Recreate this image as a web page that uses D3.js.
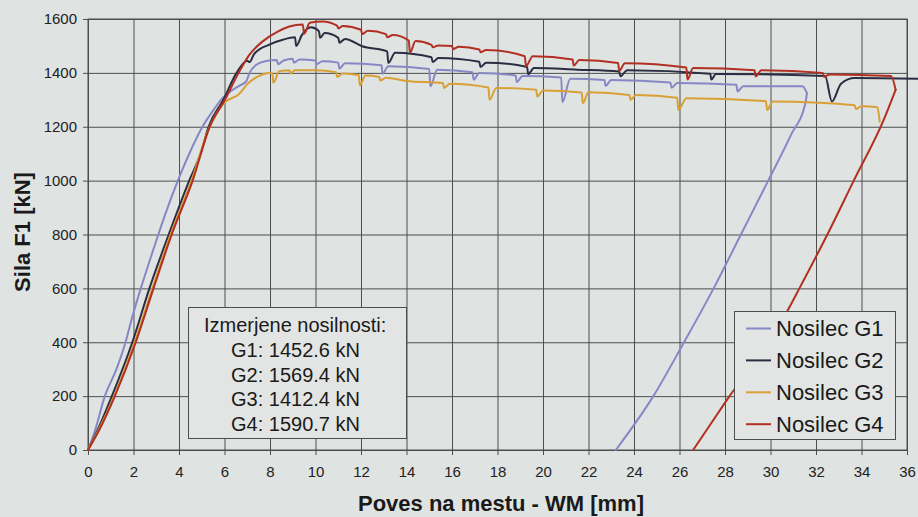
<!DOCTYPE html>
<html>
<head>
<meta charset="utf-8">
<script src="https://cdn.jsdelivr.net/npm/d3@7"></script>
<style>
  body { margin: 0; background: #dfe3e1; }
  svg { display: block; font-family: "Liberation Sans", Arial, sans-serif; }
</style>
</head>
<body>
<svg id="chart" width="918" height="517"></svg>
<script>
// --- data ---
const seriesNames = ["Nosilec G1", "Nosilec G2", "Nosilec G3", "Nosilec G4"];
const xTicks = [0, 2, 4, 6, 8, 10, 12, 14, 16, 18, 20, 22, 24, 26, 28, 30, 32, 34, 36];
const yTicks = [0, 200, 400, 600, 800, 1000, 1200, 1400, 1600];
const capacityNames = ["G1", "G2", "G3", "G4"];
const capacityValues = [1452.6, 1569.4, 1412.4, 1590.7];

// [poves mm, sila kN]
const g1 = [[0,0],[0.3,70],[0.74,200],[1.25,300],[1.65,400],[1.9,480],[2.32,600],[2.7,700],[3.09,800],[3.5,900],
  [3.95,1000],[4.44,1098],[5.03,1200],[5.49,1259],[5.93,1308],[6.29,1333],[6.6,1350],[6.95,1368],[7.1,1400],
  [7.4,1430],[7.8,1443],[8.3,1448],[8.35,1432],[8.6,1446],[9.0,1452],[9.05,1438],[9.3,1450],[10.0,1446],
  [10.05,1432],[10.3,1443],[11.0,1438],[11.05,1416],[11.3,1436],[12.9,1428],[12.95,1397],[13.2,1425],
  [15.0,1414],[15.05,1350],[15.35,1412],[16.9,1402],[16.95,1375],[17.2,1400],[18.8,1390],[18.85,1366],
  [19.1,1388],[20.8,1383],[20.85,1291],[21.2,1378],[22.7,1374],[22.75,1352],[23.0,1374],[25.6,1364],
  [25.65,1345],[25.9,1362],[28.5,1356],[28.55,1331],[28.8,1350],[31.4,1350],[31.6,1325],[31.55,1294],
  [30.9,1170],[29.9,1000],[28.7,800],[27.5,600],[26.2,400],[24.85,200],[23.2,0]];

const g2 = [[0,0],[0.4,70],[1.05,200],[1.95,400],[2.7,600],[3.55,800],[4.45,1000],[4.95,1100],[5.3,1200],
  [5.95,1300],[6.53,1400],[7.0,1445],[7.1,1440],[7.3,1470],[7.97,1505],[8.56,1523],[9.1,1532],[9.15,1500],
  [9.4,1540],[9.8,1569],[10.15,1555],[10.2,1530],[10.4,1548],[11.0,1530],[11.05,1512],[11.3,1526],
  [12.05,1499],[13.15,1480],[13.2,1437],[13.5,1475],[15.1,1458],[15.15,1440],[15.4,1455],[17.2,1441],
  [17.25,1422],[17.5,1438],[19.3,1422],[19.35,1395],[19.6,1418],[21.5,1412],[23.35,1405],[23.4,1387],
  [23.7,1410],[27.35,1397],[27.4,1375],[27.6,1396],[32.4,1388],[32.7,1294],[33.1,1360],[33.7,1381],[36.5,1378]];

const g3 = [[0,0],[0.5,80],[1.15,200],[2.05,400],[2.83,600],[3.63,800],[4.55,1000],[5.35,1200],[6.0,1290],
  [6.62,1320],[7.06,1363],[7.5,1388],[7.97,1400],[8.1,1398],[8.15,1363],[8.41,1406],[8.85,1410],[8.9,1398],
  [9.1,1410],[10.0,1410],[10.9,1402],[10.95,1385],[11.2,1398],[11.9,1392],[11.95,1354],[12.2,1390],
  [12.8,1385],[12.85,1372],[13.1,1382],[14.0,1370],[15.6,1362],[15.65,1344],[15.9,1360],[17.6,1346],
  [17.65,1300],[17.95,1344],[19.7,1337],[19.75,1312],[20.0,1335],[21.7,1327],[21.75,1287],[22.0,1328],
  [23.8,1318],[23.85,1300],[24.1,1318],[25.9,1308],[25.95,1262],[26.3,1306],[29.8,1295],[29.85,1262],
  [30.1,1294],[33.7,1280],[33.75,1266],[34.0,1276],[34.7,1272],[34.8,1219]];

const g4 = [[0,0],[0.5,75],[1.18,200],[2.1,400],[2.88,600],[3.68,800],[4.6,1000],[5.35,1200],[6.03,1302],
  [6.62,1400],[7.09,1467],[7.68,1517],[8.34,1553],[8.85,1572],[9.44,1580],[9.5,1545],[9.75,1586],
  [10.3,1591],[10.95,1575],[11.0,1565],[11.2,1574],[12.0,1560],[12.05,1544],[12.3,1556],[13.1,1544],
  [13.15,1532],[13.4,1541],[14.1,1520],[14.15,1475],[14.4,1518],[15.1,1504],[15.15,1495],[15.4,1502],
  [16.0,1500],[16.05,1488],[16.3,1497],[17.2,1487],[17.25,1477],[17.5,1485],[19.2,1462],[19.25,1425],
  [19.55,1462],[21.3,1450],[21.35,1427],[21.6,1448],[23.3,1437],[23.35,1408],[23.6,1436],[26.3,1420],
  [26.35,1375],[26.6,1418],[29.3,1410],[29.35,1387],[29.6,1410],[32.3,1400],[32.35,1385],[32.6,1394],
  [35.3,1388],[35.5,1337],[35.0,1230],[33.66,1000],[32.5,800],[31.27,600],[30.7,510],[29.5,350],
  [28.2,200],[27.4,100],[26.6,0]];

const allSeries = [g1, g2, g3, g4];
const colors = ["#8787c6", "#2b2d42", "#d9a035", "#b22f22"];

// --- layout ---
const svg = d3.select("#chart");
const margin = {left: 88, top: 19, right: 11, bottom: 67};
const width = 918 - margin.left - margin.right, height = 517 - margin.top - margin.bottom;

const x = d3.scaleLinear().domain([0, 36]).range([0, width]);
const y = d3.scaleLinear().domain([0, 1600]).range([height, 0]);

const g = svg.append("g").attr("transform", `translate(${margin.left},${margin.top})`);

// grid
g.append("g")
  .attr("transform", `translate(0,${height})`)
  .call(d3.axisBottom(x).tickValues(xTicks).tickSize(-height).tickFormat(""))
  .call(a => a.selectAll("line").attr("stroke", "#4d4f4f"))
  .call(a => a.select(".domain").remove());
g.append("g")
  .call(d3.axisLeft(y).tickValues(yTicks).tickSize(-width).tickFormat(""))
  .call(a => a.selectAll("line").attr("stroke", "#4d4f4f"))
  .call(a => a.select(".domain").remove());

// axes with labels
g.append("g")
  .attr("transform", `translate(0,${height})`)
  .call(d3.axisBottom(x).tickValues(xTicks).tickSize(5).tickPadding(11).tickSizeOuter(0))
  .call(a => a.selectAll("line").attr("stroke", "#4d4f4f"))
  .call(a => a.select(".domain").attr("stroke", "#4d4f4f"))
  .call(a => a.selectAll("text").attr("font-size", 15).attr("fill", "#222")
    .attr("font-family", "'Liberation Sans', Arial, sans-serif"));

g.append("g")
  .call(d3.axisLeft(y).tickValues(yTicks).tickFormat(d3.format("d")).tickSize(5).tickPadding(6).tickSizeOuter(0))
  .call(a => a.selectAll("line").attr("stroke", "#4d4f4f"))
  .call(a => a.select(".domain").attr("stroke", "#4d4f4f"))
  .call(a => a.selectAll("text").attr("font-size", 15).attr("fill", "#222")
    .attr("font-family", "'Liberation Sans', Arial, sans-serif"));

// frame top/right
g.append("rect").attr("width", width).attr("height", height)
  .attr("fill", "none").attr("stroke", "#4d4f4f");

// curves: split each series into the loading part and the unloading part
// so both can use a monotone-in-x curve (no overshoot between the dips)
const pieces = [];
allSeries.forEach((pts, i) => {
  const iMax = d3.maxIndex(pts, d => d[0]);
  pieces.push({i: i, pts: pts.slice(0, iMax + 1)});
  if (iMax < pts.length - 1) pieces.push({i: i, pts: pts.slice(iMax).reverse()});
});

const line = d3.line().x(d => x(d[0])).y(d => y(d[1])).curve(d3.curveMonotoneX);
g.selectAll(".curve")
  .data(pieces)
  .enter().append("path")
  .attr("class", "curve")
  .attr("d", d => line(d.pts))
  .attr("fill", "none")
  .attr("stroke", d => colors[d.i])
  .attr("stroke-width", 2)
  .attr("stroke-linejoin", "round")
  .attr("stroke-linecap", "round");

// axis titles
svg.append("text")
  .attr("transform", "translate(22,232) rotate(-90)")
  .attr("text-anchor", "middle")
  .attr("dominant-baseline", "central")
  .attr("font-size", 22).attr("font-weight", "bold").attr("fill", "#1a1a1a")
  .text("Sila F1 [kN]");

svg.append("text")
  .attr("x", 501).attr("y", 511)
  .attr("text-anchor", "middle")
  .attr("font-size", 22).attr("font-weight", "bold").attr("fill", "#1a1a1a")
  .text("Poves na mestu - WM [mm]");

// capacity box
const box = svg.append("g");
box.append("rect").attr("x", 188.5).attr("y", 307.5).attr("width", 218).attr("height", 131)
  .attr("fill", "#e2e5e3").attr("stroke", "#4d4f4f");
box.append("text").attr("x", 204).attr("y", 325).attr("dominant-baseline", "central")
  .attr("font-size", 20).attr("fill", "#1a1a1a").text("Izmerjene nosilnosti:");
box.selectAll(".cap")
  .data(capacityNames)
  .enter().append("text")
  .attr("class", "cap")
  .attr("x", 231).attr("y", (d, i) => 350 + i * 24.7)
  .attr("dominant-baseline", "central")
  .attr("font-size", 20).attr("fill", "#1a1a1a")
  .text((d, i) => `${d}: ${capacityValues[i].toFixed(1)} kN`);

// legend
const legend = svg.append("g");
legend.append("rect").attr("x", 734.5).attr("y", 311.5).attr("width", 161).attr("height", 128)
  .attr("fill", "#e2e5e3").attr("stroke", "#4d4f4f");
const item = legend.selectAll(".item")
  .data(seriesNames)
  .enter().append("g")
  .attr("class", "item")
  .attr("transform", (d, i) => `translate(0,${328.5 + i * 31.9})`);
item.append("line").attr("x1", 746).attr("x2", 771)
  .attr("stroke", (d, i) => colors[i]).attr("stroke-width", 2);
item.append("text").attr("x", 776).attr("dominant-baseline", "central")
  .attr("font-size", 22).attr("fill", "#1a1a1a").text(d => d);
</script>
</body>
</html>
